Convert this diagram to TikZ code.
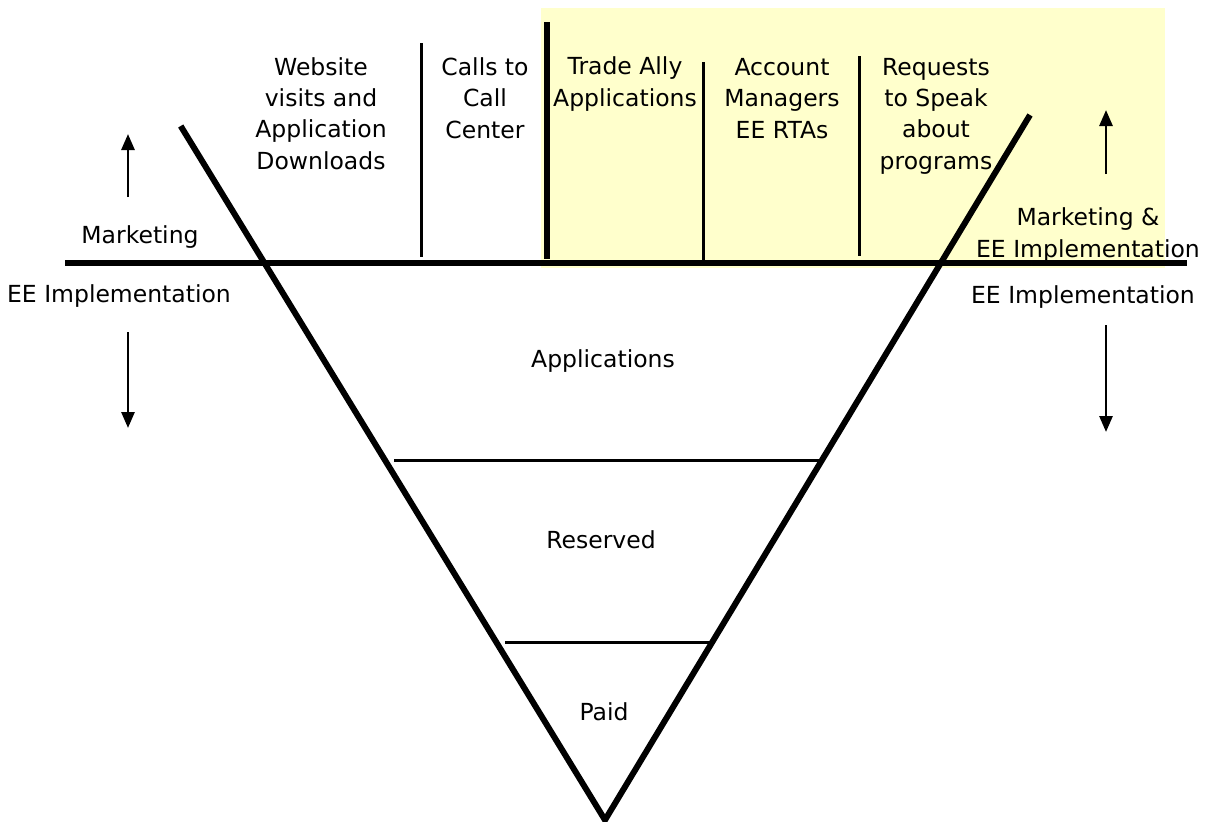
\documentclass[tikz,border=0pt]{standalone}
\usepackage{fontspec}
\setmainfont{DejaVu Sans}
\usepackage{xcolor}
\usepackage{tikz}
\usetikzlibrary{calc, arrows.meta, positioning}

\definecolor{paleyellow}{RGB}{255,255,204}

\begin{document}
\begin{tikzpicture}[x=1pt, y=-1pt, >={Triangle[length=16pt, width=13pt]}, font=\fontsize{23.5}{31.3}\selectfont]
	\tikzstyle{lbl} = [draw=none, inner sep=0pt, align=center, anchor=base]
	\tikzstyle{heavy} = [line width=6pt]
	\tikzstyle{thin} = [line width=3pt]
	\tikzstyle{flow} = [->, line width=2.8pt]

	\useasboundingbox (0,0) rectangle (1213,822);
	\fill[paleyellow] (541,8) rectangle (1165,268);

	% funnel
	\draw[heavy] (180.7,126) -- (605,820) -- (1030,115);
	\draw[heavy] (65,263) -- (1187,263);
	\draw[thin] (394,460) -- (821,460);
	\draw[thin] (505,642) -- (711,642);

	% column separators
	\draw[thin] (421,43) -- (421,257);
	\draw[heavy] (547,22) -- (547,259);
	\draw[thin] (703,62) -- (703,260);
	\draw[thin] (859,56) -- (859,256);

	% base anchor = baseline of the last line
	\node[lbl]	at (321, 169)	(web)	{Website\\visits and\\Application\\Downloads};
	\node[lbl]	at (485, 138)	(calls)	{Calls to\\Call\\Center};
	\node[lbl]	at (625, 106)	(ally)	{Trade Ally\\Applications};
	\node[lbl]	at (782, 138)	(acct)	{Account\\Managers\\EE RTAs};
	\node[lbl]	at (936, 169)	(speak)	{Requests\\to Speak\\about\\programs};

	\node[lbl]	at (140, 243)	(mkt)	{Marketing};
	\node[lbl]	at (119, 302)	(impl)	{EE Implementation};
	\node[lbl]	at (1088, 257)	(mktee)	{Marketing \&\\EE Implementation};
	\node[lbl]	at (1083, 303)	(implr)	{EE Implementation};

	\node[lbl]	at (603, 367)	(apps)	{Applications};
	\node[lbl]	at (601, 548)	(res)	{Reserved};
	\node[lbl]	at (604, 720)	(paid)	{Paid};

	\coordinate (lu0) at (128,197);
	\coordinate (lu1) at (128,134);
	\coordinate (ld0) at (128,332);
	\coordinate (ld1) at (128,428);
	\coordinate (ru0) at (1106,174);
	\coordinate (ru1) at (1106,110);
	\coordinate (rd0) at (1106,325);
	\coordinate (rd1) at (1106,432);

	\path[flow]
	(lu0)	edge	(lu1)
	(ld0)	edge	(ld1)
	(ru0)	edge	(ru1)
	(rd0)	edge	(rd1);
\end{tikzpicture}
\end{document}
